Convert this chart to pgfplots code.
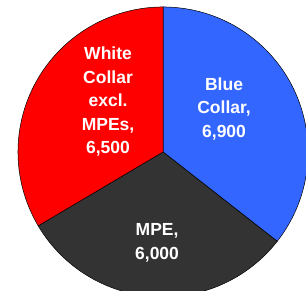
\documentclass[border=0pt]{standalone}
\usepackage{pgfplots}
\pgfplotsset{compat=1.18}
\usepackage{fontspec}
\setmainfont{Liberation Sans}
\definecolor{cblue}{HTML}{3366FF}
\definecolor{cred}{HTML}{FF0000}
\definecolor{cgray}{HTML}{333333}
\def\vBlue{6900}
\def\vMPE{6000}
\def\vWhite{6500}
\pgfmathsetmacro\tot{\vBlue/1000+\vMPE/1000+\vWhite/1000}
\pgfmathsetmacro\aA{90-360*(\vBlue/1000)/\tot}
\pgfmathsetmacro\aB{\aA-360*(\vMPE/1000)/\tot}
\begin{document}
\begin{tikzpicture}
\begin{axis}[
  width=306pt, height=290pt, scale only axis,
  xmin=-1.124, xmax=0.986, ymin=-0.952, ymax=1.048,
  axis lines=none, ticks=none,
  clip=true,
]
\addplot[fill=cblue, draw=black, line width=0.5pt, domain=\aA:90, samples=120, variable=\t]
  ({cos(\t)},{sin(\t)}) -- (axis cs:0,0) -- cycle;
\addplot[fill=cgray, draw=black, line width=0.5pt, domain=\aB:\aA, samples=120, variable=\t]
  ({cos(\t)},{sin(\t)}) -- (axis cs:0,0) -- cycle;
\addplot[fill=cred, draw=black, line width=0.5pt, domain=-270:\aB, samples=120, variable=\t]
  ({cos(\t)},{sin(\t)}) -- (axis cs:0,0) -- cycle;
\node[text=white, font=\fontsize{17.5}{23.5}\selectfont\bfseries, align=center] at (axis cs:-0.379,0.345) {White\\Collar\\excl.\\MPEs,\\6,500};
\node[text=white, font=\fontsize{17.5}{23.5}\selectfont\bfseries, align=center] at (axis cs:0.421,0.297) {Blue\\Collar,\\6,900};
\node[text=white, font=\fontsize{17.5}{23.5}\selectfont\bfseries, align=center] at (axis cs:-0.041,-0.628) {MPE,\\6,000};
\end{axis}
\pgfresetboundingbox
\path[use as bounding box] (current axis.south west) rectangle (current axis.north east);
\end{tikzpicture}
\end{document}
